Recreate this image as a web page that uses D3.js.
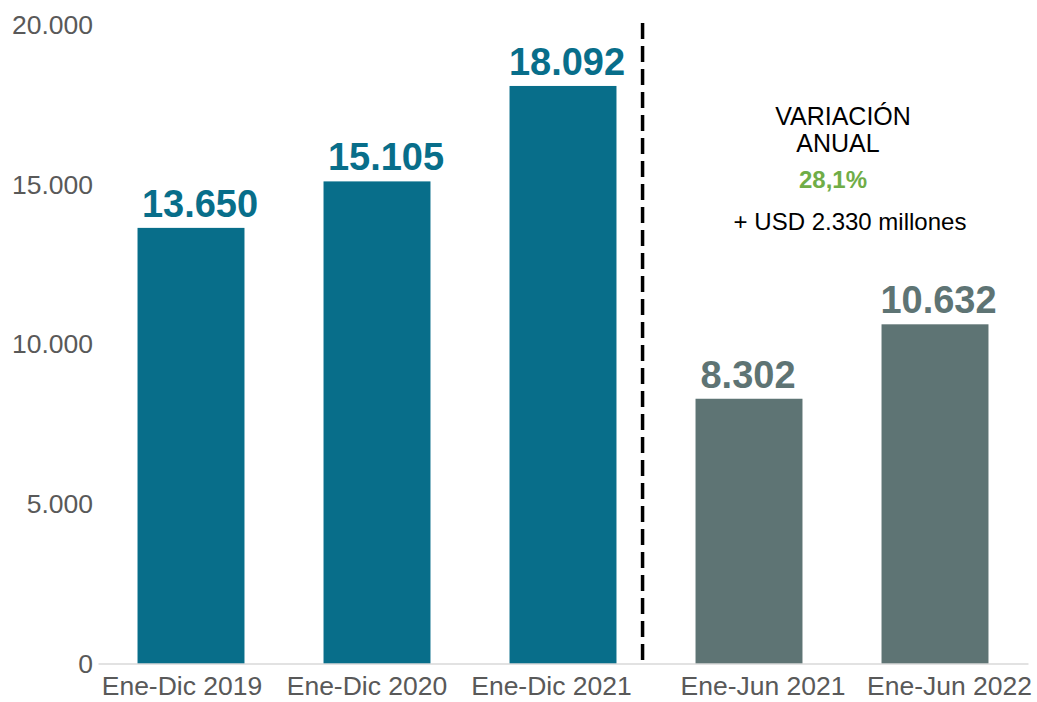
<!DOCTYPE html>
<html><head><meta charset="utf-8">
<script src="https://cdn.jsdelivr.net/npm/d3@7"></script>
<style>html,body{margin:0;padding:0;background:#fff;}svg{display:block;font-family:"Liberation Sans",Arial,sans-serif;}</style>
</head><body>
<svg id="c" width="1037" height="702"></svg>
<script>
const categories = ["Ene-Dic 2019","Ene-Dic 2020","Ene-Dic 2021","Ene-Jun 2021","Ene-Jun 2022"];
const values = [13650, 15105, 18092, 8302, 10632];
const valueLabels = ["13.650","15.105","18.092","8.302","10.632"];
const groups = ["anual","anual","anual","semestre","semestre"];
const yTicks = [0, 5000, 10000, 15000, 20000];
const yTickLabels = ["0","5.000","10.000","15.000","20.000"];
const annotation = ["VARIACIÓN","ANUAL","28,1%","+ USD 2.330 millones"];

// layout tweaks (pixel nudges of labels, as in the original)
const valueLabelDx = [9, 9, 4, -1, 3.5];
const catLabelDx = [-9, -10, -11.5, 14, 14.5];

const colors = {anual:"#086E8A", semestre:"#5E7474"};
const svg = d3.select("#c");
const x = d3.scaleBand().domain(categories).range([98,1028]).paddingInner(0.425).paddingOuter(0.2125);
const y = d3.scaleLinear().domain([0,20000]).range([664,25]);

// y tick labels
const ya = svg.append("g").attr("transform","translate(93,0)")
  .call(d3.axisLeft(y).tickValues(yTicks).tickFormat((d,i)=>yTickLabels[i]).tickSize(0).tickPadding(0));
ya.select(".domain").remove();
ya.selectAll("text").attr("font-size",26.5).attr("fill","#595959").attr("font-family","Liberation Sans, Arial, sans-serif");

// bars
svg.selectAll("rect.bar").data(values).join("rect").attr("class","bar")
  .attr("x",(d,i)=>x(categories[i])).attr("width",x.bandwidth())
  .attr("y",d=>y(d)).attr("height",d=>y(0)-y(d))
  .attr("fill",(d,i)=>colors[groups[i]]);

// value labels
svg.selectAll("text.val").data(values).join("text").attr("class","val")
  .attr("x",(d,i)=>x(categories[i])+x.bandwidth()/2+valueLabelDx[i]).attr("y",d=>y(d)-11)
  .attr("text-anchor","middle").attr("font-size",38).attr("font-weight","bold")
  .attr("fill",(d,i)=>colors[groups[i]]).text((d,i)=>valueLabels[i]);

// x axis
const xa = svg.append("g").attr("transform","translate(0,663.5)")
  .call(d3.axisBottom(x).tickSize(0).tickPadding(13));
xa.select(".domain").attr("stroke","#D9D9D9").attr("stroke-width",1.5);
xa.selectAll("text").attr("font-size",26.5).attr("fill","#595959").attr("font-family","Liberation Sans, Arial, sans-serif")
  .attr("dx",(d,i)=>catLabelDx[i]);

// dashed separator
const gapStart = x(categories[2])+x.bandwidth();
const sepX = gapStart + (x(categories[3]) - gapStart)*0.33;
svg.append("line").attr("x1",sepX).attr("x2",sepX).attr("y1",23).attr("y2",663)
  .attr("stroke","#000").attr("stroke-width",3.5).attr("stroke-dasharray","16,7");

// annotation
const ann = [
  {t:annotation[0], x:843, y:125, c:"#000", w:"normal", s:25},
  {t:annotation[1], x:838, y:152, c:"#000", w:"normal", s:25},
  {t:annotation[2], x:833, y:188, c:"#70AD47", w:"bold", s:24},
  {t:annotation[3], x:850, y:230, c:"#000", w:"normal", s:24}
];
svg.selectAll("text.ann").data(ann).join("text").attr("class","ann")
  .attr("x",d=>d.x).attr("y",d=>d.y).attr("text-anchor","middle")
  .attr("font-size",d=>d.s).attr("font-weight",d=>d.w).attr("fill",d=>d.c).text(d=>d.t);
</script>
</body></html>
